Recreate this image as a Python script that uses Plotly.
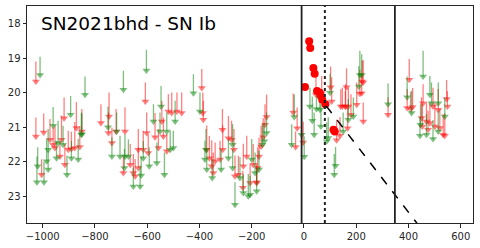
import plotly.graph_objects as go

# Upper limits (phase in days, limiting magnitude, arrow length in mag)
red_x = [-1026, -1026, -996, -1004, -972, -960, -953, -928, -934, -915, -902, -877, -858, -890, -918, -871, -850, -777,
         -607, -746, -748, -719, -685, -735, -691, -665, -653, -646, -634, -615, -634, -596, -602, -570, -557, -544, -538,
         -519, -506, -486, -468, -525, -391, -387, -385, -312, -372, -362, -353, -347, -340, -321, -311, -289, -277, -268,
         -264, -251, -234, -232, -219, -206, -194, -181,
         -143, -149, -156, -164, -172, -177, -181, -41, -26, -32, -3, 46, 68,
         102, 106, 125, 138, 141, 147, 159, 159, 163, 167, 170, 180, 202, 214, 221, 223, 227, 227, 322,
         403, 395, 408, 416, 456, 494, 514, 546, 549, 450, 453, 469, 482, 475, 501, 520, 533, 539]
red_m = [19.67, 21.27, 21.15, 22.38, 21.36, 21.51, 21.60, 21.36, 21.85, 22.09, 21.65, 21.60, 21.57, 21.63, 20.74, 21.02, 21.12, 20.88,
         20.25, 20.69, 21.17, 21.12, 21.12, 21.46, 22.33, 22.09, 22.33, 22.42, 22.18, 21.65, 21.65, 21.75, 21.17, 21.29, 21.60, 20.83, 21.27,
         20.54, 20.59, 20.54, 20.59, 21.70, 19.86, 20.59, 20.78, 21.07, 21.65, 21.90, 22.13, 22.33, 21.99, 21.94, 21.65, 21.32, 21.36, 21.65,
         22.42, 22.38, 22.76, 22.13, 21.85, 22.62, 22.09, 22.62,
         20.70, 20.93, 21.29, 21.56, 21.85, 22.18, 22.60, 20.57, 21.03, 21.57, 21.44, 20.06, 20.01,
         19.84, 20.25, 21.38, 21.25, 20.40, 20.40, 20.40, 20.40, 19.84, 21.03, 20.40, 20.64, 20.35, 20.03, 20.01, 19.67, 19.70, 20.83, 20.64,
         19.62, 20.44, 20.47, 20.41, 20.30, 20.40, 20.49, 20.18, 20.40, 20.73, 20.98, 20.83, 20.88, 21.07, 20.98, 21.02, 21.22, 21.25]
red_len = [0.58, 0.55, 0.55, 0.45, 0.60, 0.50, 0.65, 0.70, 0.45, 0.60, 0.55, 0.75, 0.60, 0.50, 0.60, 0.75, 0.65, 0.55,
           0.55, 0.70, 0.60, 0.65, 0.70, 0.45, 0.50, 0.60, 0.55, 0.50, 0.60, 0.55, 0.60, 0.55, 0.60, 0.70, 0.55, 0.60, 0.55,
           0.50, 0.60, 0.55, 0.60, 0.50, 0.55, 0.60, 0.55, 0.60, 0.70, 0.65, 0.75, 0.60, 0.55, 0.55, 0.70, 0.65, 0.55, 0.60,
           0.60, 0.55, 0.50, 0.65, 0.60, 0.55, 0.60, 0.50,
           0.65, 0.60, 0.55, 0.60, 0.55, 0.60, 0.55, 0.55, 0.60, 0.45, 0.60, 0.55, 0.50,
           0.60, 0.70, 0.60, 0.55, 0.50, 0.55, 0.65, 0.45, 0.55, 0.60, 0.55, 0.60, 0.65, 0.70, 0.55, 0.60, 0.65, 0.55, 0.50,
           0.60, 0.55, 0.50, 0.55, 0.55, 0.55, 0.60, 0.55, 0.45, 0.60, 0.65, 0.55, 0.60, 0.55, 0.70, 0.55, 0.60, 0.65]

green_x = [-1010, -838, -960, -893, -850, -979, -941, -922, -947, -985, -979, -890, -864, -852, -1019, -1022, -995, -907,
           -603, -691, -750, -717, -735, -704, -685, -687, -672, -653, -627, -623, -615, -592, -576, -563, -551, -547, -534,
           -525, -493, -512, -500, -423, -398, -375, -379, -372, -351, -317, -289, -273, -273, -264, -245, -232, -213, -200, -206, -187,
           -143, -152, -159, -172, -181, -37, -47, -9, 1, 23, 32, 39, 48,
           61, 65, 87, 93, 121, 116, 150, 170, 189, 210, 221, 100, 214, 322,
           456, 395, 412, 482, 488, 514, 539, 446, 444, 469, 494, 514]
green_m = [19.48, 20.06, 20.96, 20.64, 21.20, 21.65, 21.46, 21.51, 21.90, 21.99, 22.23, 21.90, 21.94, 21.22, 22.13, 22.60, 22.60, 22.38,
           19.35, 19.91, 21.00, 21.12, 21.85, 21.85, 21.85, 22.18, 21.85, 22.72, 22.72, 22.40, 21.90, 22.13, 20.83, 22.04, 21.12, 20.40, 22.38,
           21.12, 20.83, 21.65, 21.60, 20.01, 20.54, 21.65, 21.94, 22.23, 22.47, 22.23, 21.90, 21.51, 22.18, 23.25, 22.47, 22.91, 23.00, 21.94, 22.96, 22.33,
           21.17, 21.41, 21.51, 22.23, 22.86, 20.70, 21.51, 21.22, 21.86, 20.40, 20.81, 21.22, 20.47,
           20.49, 20.98, 21.41, 21.31, 22.12, 22.38, 21.12, 20.78, 20.69, 19.82, 19.48, 20.00, 19.48, 20.33,
           19.53, 20.13, 20.59, 20.06, 20.30, 20.30, 20.69, 20.93, 21.25, 21.22, 21.34, 21.12]
green_len = [0.53, 0.53, 0.55, 0.55, 0.60, 0.60, 0.65, 0.55, 0.50, 0.65, 0.55, 0.50, 0.60, 0.65, 0.55, 0.75, 0.60, 0.55,
             0.60, 0.55, 0.60, 0.55, 0.55, 0.60, 0.65, 0.55, 0.50, 0.55, 0.60, 0.55, 0.50, 0.55, 0.50, 0.60, 0.55, 0.60, 0.65,
             0.55, 0.60, 0.55, 0.50, 0.55, 0.55, 0.60, 0.55, 0.60, 0.55, 0.60, 0.55, 0.60, 0.55, 0.65, 0.60, 0.55, 0.65, 0.60, 0.55, 0.60,
             0.60, 0.55, 0.60, 0.55, 0.60, 0.65, 0.60, 0.55, 0.60, 0.55, 0.70, 0.65, 0.60,
             0.60, 0.65, 0.55, 0.60, 0.55, 0.60, 0.55, 0.60, 0.55, 0.60, 0.60, 0.55, 0.70, 0.60,
             0.75, 0.60, 0.65, 0.55, 0.60, 0.60, 0.55, 0.60, 0.55, 0.60, 0.55, 0.60]

# Detections
det_x = [4, 20, 24, 36, 41, 50, 61, 65, 70, 82, 113, 118]
det_m = [19.83, 18.50, 18.70, 19.28, 19.45, 19.95, 20.00, 20.10, 20.20, 20.33, 21.07, 21.12]

# Reference lines
explosion = -9
peak_mark = 80
end_mark = 348
decline_x = [85, 445]
decline_start = 20.38
decline_rate = 0.0098  # mag / day

title = "SN2021bhd - SN Ib"
xticks = [-1000, -800, -600, -400, -200, 0, 200, 400, 600]
yticks = [18, 19, 20, 21, 22, 23]


def seg(xs, ms, ls):
    sx, sy = [], []
    for x, m, l in zip(xs, ms, ls):
        sx += [x, x, None]
        sy += [m - l, m, None]
    return sx, sy


fig = go.Figure()
for xs, ms, ls, col in [(red_x, red_m, red_len, "rgba(255,0,0,0.5)"),
                        (green_x, green_m, green_len, "rgba(0,128,0,0.5)")]:
    sx, sy = seg(xs, ms, ls)
    fig.add_trace(go.Scatter(x=sx, y=sy, mode="lines", line=dict(color=col, width=1.3),
                             hoverinfo="skip", showlegend=False))
    fig.add_trace(go.Scatter(x=xs, y=ms, mode="markers",
                             marker=dict(symbol="triangle-down", size=7, color=col, line=dict(width=0)),
                             showlegend=False))

fig.add_trace(go.Scatter(x=det_x, y=det_m, mode="markers",
                         marker=dict(symbol="circle", size=8, color="#ff0000"), showlegend=False))

fig.add_trace(go.Scatter(x=decline_x,
                         y=[decline_start + decline_rate * (v - decline_x[0]) for v in decline_x],
                         mode="lines", line=dict(color="black", width=1.5, dash="dash"), showlegend=False))

fig.add_vline(x=explosion, line=dict(color="#222222", width=1.8))
fig.add_vline(x=peak_mark, line=dict(color="#222222", width=2, dash="dot"))
fig.add_vline(x=end_mark, line=dict(color="#222222", width=1.8))

fig.add_annotation(text=title, xref="paper", yref="paper", x=0.027, y=0.975,
                   xanchor="left", yanchor="top", showarrow=False,
                   font=dict(size=18.5, color="black", family="DejaVu Sans"))

axis_common = dict(showgrid=False, zeroline=False, showline=True, linecolor="#262626", linewidth=1,
                   mirror=True, ticks="outside", ticklen=3.5, tickcolor="#262626",
                   tickfont=dict(size=10, color="#262626", family="DejaVu Sans"))
fig.update_xaxes(range=[-1060, 647], tickvals=xticks, ticktext=[str(v).replace("-", "\u2212") for v in xticks],
                 **axis_common)
fig.update_yaxes(range=[23.78, 17.48], tickvals=yticks, ticktext=[str(v) for v in yticks], **axis_common)

fig.update_layout(width=480, height=248, margin=dict(l=27, r=7, t=6, b=25),
                  paper_bgcolor="white", plot_bgcolor="white",
                  font=dict(family="DejaVu Sans"))

fig.write_html("out.html")
